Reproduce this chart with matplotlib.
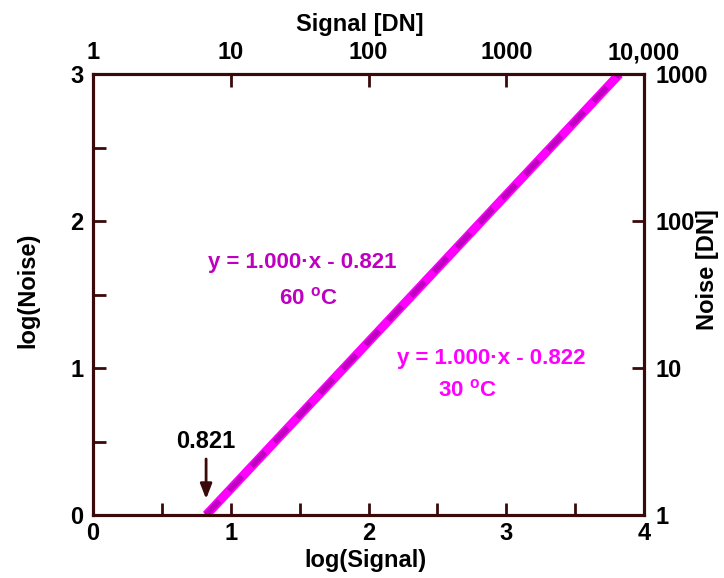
import matplotlib
matplotlib.use("Agg")
import matplotlib.pyplot as plt
import numpy as np

# ---- data ----
log_signal_60 = [0.821, 3.821]
log_noise_60 = [0.0, 3.0]
log_signal_30 = [0.822, 3.822]
log_noise_30 = [0.0, 3.0]

x_ticks = [0, 1, 2, 3, 4]
y_ticks = [0, 1, 2, 3]
top_tick_labels = ["1", "10", "100", "1000", "10,000"]
right_tick_labels = ["1", "10", "100", "1000"]

eq_60 = "y = 1.000\u00b7x - 0.821"
eq_30 = "y = 1.000\u00b7x - 0.822"
temp_60 = "60 $^{\\mathbf{o}}$C"
temp_30 = "30 $^{\\mathbf{o}}$C"
intercept_label = "0.821"
intercept_x = 0.821

plt.rcParams['font.family'] = ['Liberation Sans', 'DejaVu Sans']
plt.rcParams['font.weight'] = 'bold'
plt.rcParams['mathtext.fontset'] = 'custom'
plt.rcParams['mathtext.bf'] = 'Liberation Sans:bold'
plt.rcParams['mathtext.rm'] = 'Liberation Sans:bold'

spine_c = '#3a0a0a'
c30 = '#ff00ff'
c60 = '#c000c0'
fs = 17
fs_eq = 16

fig = plt.figure(figsize=(7.24, 5.78), dpi=100)
ax = fig.add_axes([93/724, 63/578, 551/724, 441/578])

ax.plot(log_signal_30, log_noise_30, color=c30, lw=6.5, solid_capstyle='butt', zorder=3)
ax.plot(log_signal_60, log_noise_60, color=c60, lw=4, ls=(0, (3.5, 2.5)), zorder=4)

ax.set_xlim(0, 4)
ax.set_ylim(0, 3)

ax.set_xticks(np.arange(0, 4.01, 0.5))
ax.set_xticklabels(["0", "", "1", "", "2", "", "3", "", "4"])
ax.set_yticks(np.arange(0, 3.01, 0.5))
ax.set_yticklabels(["0", "", "1", "", "2", "", "3"])
ax.tick_params(axis='both', direction='in', length=9, width=2, color=spine_c,
               labelsize=fs, labelcolor='black')
ax.tick_params(axis='x', pad=5)
ax.tick_params(axis='y', pad=7)

for s in ax.spines.values():
    s.set_color(spine_c)
    s.set_linewidth(2.2)

ax.set_xlabel("log(Signal)", fontsize=fs, fontweight='bold')
ax.xaxis.set_label_coords(0.494, -0.078)
ax.set_ylabel("log(Noise)", fontsize=fs, fontweight='bold')
ax.yaxis.set_label_coords(-0.098, 0.51)

# top axis
axt = ax.twiny()
axt.set_xlim(0, 4)
axt.set_xticks(x_ticks)
axt.set_xticklabels(top_tick_labels)
axt.tick_params(axis='x', direction='in', length=9, width=2, color=spine_c,
                labelsize=fs, pad=7)
axt.set_xlabel("Signal [DN]", fontsize=fs, fontweight='bold')
axt.xaxis.set_label_coords(0.485, 1.097)

# right axis
axr = ax.twinx()
axr.set_ylim(0, 3)
axr.set_yticks(y_ticks)
axr.set_yticklabels(right_tick_labels)
axr.tick_params(axis='y', direction='in', length=9, width=2, color=spine_c,
                labelsize=fs, pad=8)
axr.set_ylabel("Noise [DN]", fontsize=fs, fontweight='bold', rotation=90)
axr.yaxis.set_label_coords(1.095, 0.556)
for a in (axt, axr):
    for s in a.spines.values():
        s.set_color(spine_c)
        s.set_linewidth(2.2)

# annotations
ax.text(1.517, 1.721, eq_60, color=c60, fontsize=fs_eq, fontweight='bold',
        ha='center', va='center')
ax.text(1.565, 1.476, temp_60, color=c60, fontsize=fs_eq, fontweight='bold',
        ha='center', va='center')
ax.text(2.889, 1.068, eq_30, color=c30, fontsize=fs_eq, fontweight='bold',
        ha='center', va='center')
ax.text(2.715, 0.85, temp_30, color=c30, fontsize=fs_eq, fontweight='bold',
        ha='center', va='center')

ax.annotate("", xy=(intercept_x, 0.09), xytext=(intercept_x, 0.40),
            arrowprops=dict(arrowstyle='-|>,head_length=0.9,head_width=0.35',
                            color=spine_c, lw=2))
ax.text(intercept_x, 0.50, intercept_label, fontsize=fs, fontweight='bold',
        ha='center', va='center', color='black')

fig.savefig("out.png", dpi=100)
